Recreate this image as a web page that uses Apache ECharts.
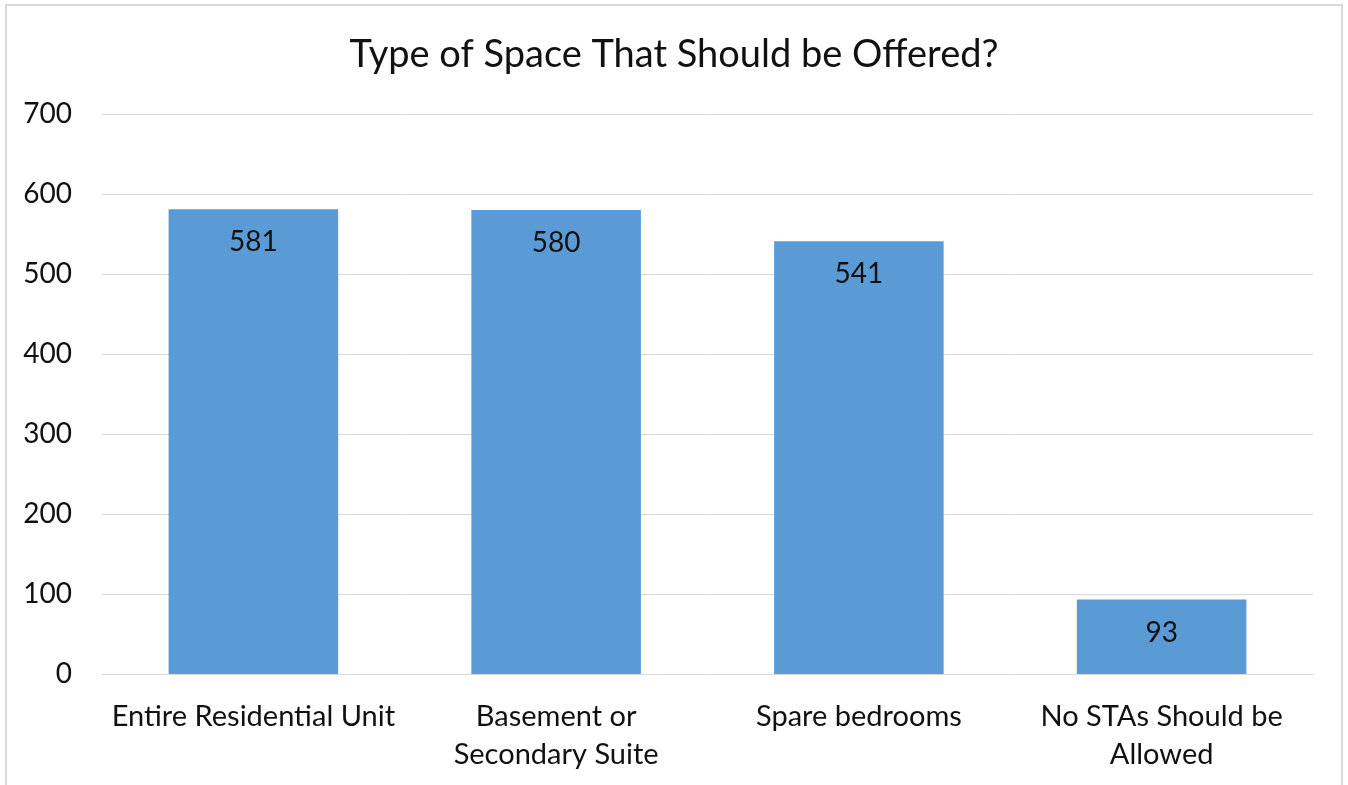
<!DOCTYPE html>
<html>
<head>
<meta charset="utf-8">
<script src="https://cdn.jsdelivr.net/npm/echarts@6/dist/echarts.min.js"></script>
<style>
  html, body { margin: 0; padding: 0; background: #ffffff; }
  #chart { width: 1348px; height: 785px; }
</style>
</head>
<body>
<div id="chart"></div>
<script>
// Survey responses: which type of space should be offered as short-term accommodation
const categories = [
  'Entire Residential Unit',
  'Basement or\nSecondary Suite',
  'Spare bedrooms',
  'No STAs Should be\nAllowed'
];
const responses = [581, 580, 541, 93];
const yTicks = [0, 100, 200, 300, 400, 500, 600, 700];

const FONT = 'Lato, "Open Sans", sans-serif';

const chart = echarts.init(document.getElementById('chart'), null, { renderer: 'canvas' });

chart.setOption({
  backgroundColor: '#ffffff',
  animation: false,
  title: {
    text: 'Type of Space That Should be Offered?',
    left: 'center',
    top: 31,
    textStyle: { fontFamily: FONT, fontSize: 38, fontWeight: 'normal', color: '#111111' }
  },
  graphic: [{
    type: 'rect',
    shape: { x: 6, y: 5, width: 1336, height: 800 },
    style: { fill: 'none', stroke: '#d9d9d9', lineWidth: 2 },
    silent: true
  }],
  grid: { left: 102, right: 35, top: 114, bottom: 111 },
  xAxis: {
    type: 'category',
    data: categories,
    axisLine: { show: true, lineStyle: { color: '#d9d9d9', width: 1 } },
    axisTick: { show: false },
    axisLabel: {
      interval: 0,
      margin: 24,
      fontFamily: FONT,
      fontSize: 29,
      lineHeight: 38,
      color: '#111111'
    }
  },
  yAxis: {
    type: 'value',
    min: yTicks[0],
    max: yTicks[yTicks.length - 1],
    interval: 100,
    axisLine: { show: false },
    axisTick: { show: false },
    splitLine: { lineStyle: { color: '#d9d9d9', width: 1 } },
    axisLabel: {
      margin: 30,
      fontFamily: FONT,
      fontSize: 28,
      color: '#111111'
    }
  },
  series: [{
    type: 'bar',
    data: responses,
    barCategoryGap: '44%',
    itemStyle: { color: '#5b9bd5' },
    label: {
      show: true,
      position: 'insideTop',
      distance: 19,
      fontFamily: FONT,
      fontSize: 28,
      color: '#111111'
    }
  }]
});
</script>
</body>
</html>
